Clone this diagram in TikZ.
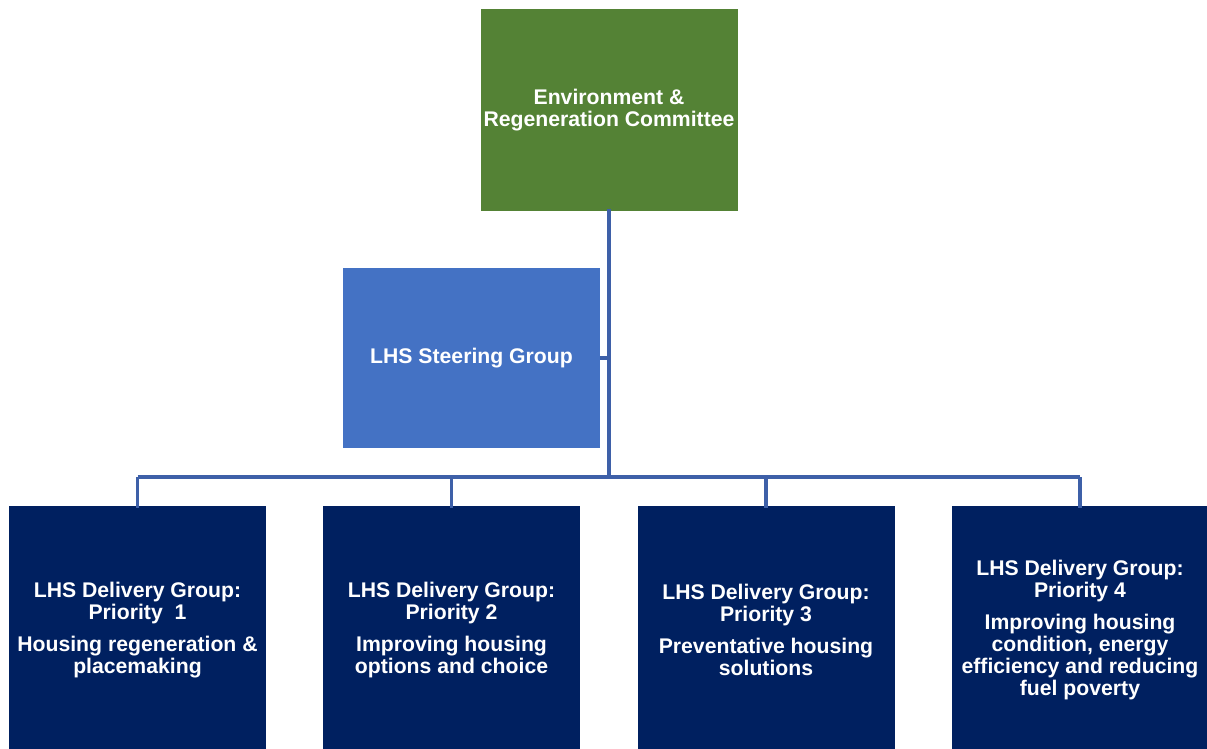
\documentclass[tikz,border=0pt]{standalone}
\usepackage{fontspec}
\setmainfont{Liberation Sans}
\definecolor{envgreen}{RGB}{84,130,53}
\definecolor{steerblue}{RGB}{68,114,196}
\definecolor{delnavy}{RGB}{0,32,96}
\definecolor{linkblue}{RGB}{62,96,168}
\tikzset{
  box/.style={rectangle, inner sep=0pt, align=center, text=white,
    font=\fontsize{15.9}{16.5}\selectfont\bfseries,
    minimum width=192.75pt},
  envbox/.style={box, fill=envgreen, minimum height=151.5pt},
  steerbox/.style={box, fill=steerblue, minimum height=135pt},
  delbox/.style={box, fill=delnavy, minimum height=186pt},
  link/.style={draw=linkblue, line width=2.6pt}
}
\begin{document}
\begin{tikzpicture}[x=0.75pt,y=0.75pt,yscale=-1,xscale=1]
%set diagram left start at 0, and has height of 749
\useasboundingbox (0,0) rectangle (1207,749);
\clip (0,0) rectangle (1207,749);

%Shape: Rectangle [committee]
\node [envbox] (env) at (609,110) {Environment \&\\Regeneration Committee};
%Shape: Rectangle [steering]
\node [steerbox] (steer) at (471.5,358) {LHS Steering Group};

%Shape: Rectangle [delivery groups]
\node [delbox] (pone) at (137.5,630) {LHS Delivery Group:\\Priority\ \ 1\\[7pt]Housing regeneration \&\\placemaking};
\node [delbox] (ptwo) at (451.5,630) {LHS Delivery Group:\\Priority 2\\[7pt]Improving housing\\options and choice};
\node [delbox] (pthree) at (766,630) {LHS Delivery Group:\\Priority 3\\[7pt]Preventative housing\\solutions};
\node [delbox] (pfour) at (1080,630) {LHS Delivery Group:\\Priority 4\\[7pt]Improving housing\\condition, energy\\efficiency and reducing\\fuel poverty};

%Straight Lines [connectors]
\coordinate (bar) at (609,477);
\draw [link] ([yshift=-2pt]env.south) -- (env.south |- bar);
\draw [link] (steer.east) -- (steer.east -| env.south);
\draw [link] (pone.north |- bar) -- (pfour.north |- bar);
\foreach \p in {pone,ptwo,pthree,pfour}
  \draw [link] (\p.north |- bar) -- ([yshift=2pt]\p.north);

\end{tikzpicture}
\end{document}
